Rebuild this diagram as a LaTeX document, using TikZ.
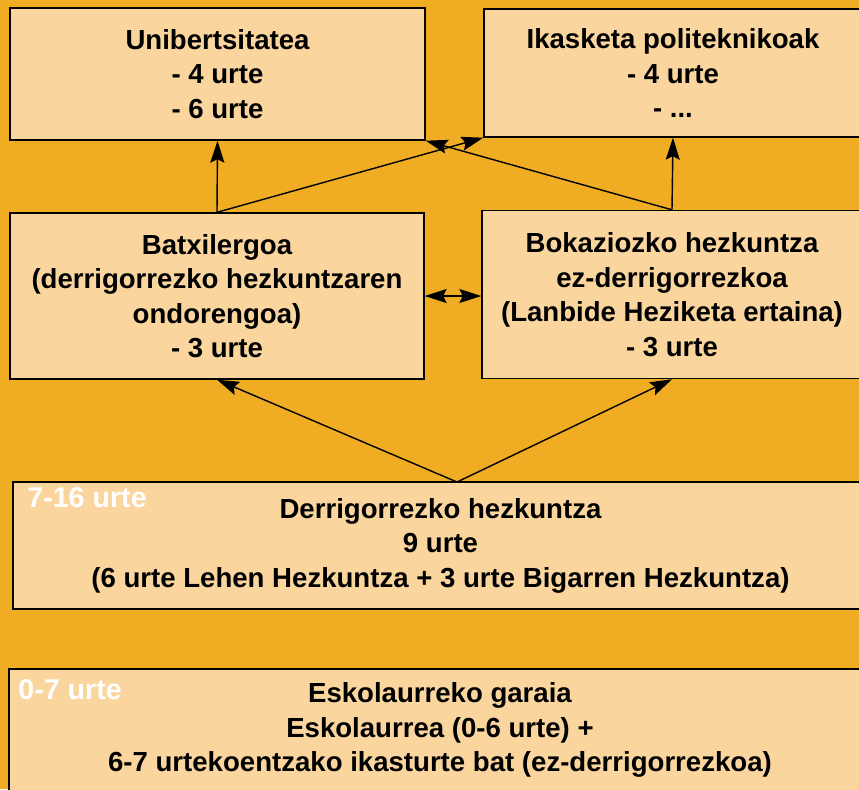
\documentclass[tikz,border=0pt]{standalone}
\usepackage{fontspec}
\setmainfont{Liberation Sans}
\usetikzlibrary{arrows.meta}
\definecolor{bgorange}{HTML}{F0AD24}
\definecolor{boxfill}{HTML}{FAD69E}

\begin{document}
\begin{tikzpicture}[x=0.02cm, y=-0.02cm, >={Stealth[length=4.4mm, width=2.8mm, inset=0.7mm]},
  box/.style={draw, thick, fill=boxfill, inner sep=0pt, align=center,
    font=\bfseries\fontsize{15.7}{19.6}\selectfont},
  age/.style={anchor=west, inner sep=0pt, text=white,
    font=\bfseries\fontsize{16.3}{19}\selectfont}]
  \useasboundingbox (0,0) rectangle (859,789);
  \fill [bgorange] (0,0) rectangle (859,789);
  \clip (0,0) rectangle (859,789);

  % upper level
  \node (uni) at (217.5,74) [box, minimum width=8.3cm, minimum height=2.64cm]
    {Unibertsitatea\\- 4 urte\\- 6 urte};
  \node (ika) at (673,73) [box, minimum width=7.56cm, minimum height=2.56cm]
    {Ikasketa politeknikoak\\- 4 urte\\- ...};

  % middle level
  \node (batx) at (217,296) [box, minimum width=8.28cm, minimum height=3.32cm]
    {Batxilergoa\\(derrigorrezko hezkuntzaren\\ondorengoa)\\- 3 urte};
  \node (bok) at (672,294.5) [box, minimum width=7.6cm, minimum height=3.36cm]
    {Bokaziozko hezkuntza\\ez-derrigorrezkoa\\(Lanbide Heziketa ertaina)\\- 3 urte};

  % compulsory and pre-school
  \node (der) at (440.5,545.5) [box, minimum width=17.1cm, minimum height=2.54cm]
    {Derrigorrezko hezkuntza\\9 urte\\(6 urte Lehen Hezkuntza + 3 urte Bigarren Hezkuntza)};
  \node (esk) at (440,730) [box, minimum width=17.24cm, minimum height=2.44cm]
    {Eskolaurreko garaia\\Eskolaurrea (0-6 urte) +\\6-7 urtekoentzako ikasturte bat (ez-derrigorrezkoa)};

  \node (der-age) at (27,498) [age] {7-16 urte};
  \node (esk-age) at (18,690) [age] {0-7 urte};

  \coordinate (fork) at (457,482);

  \draw [thick, ->] (batx.north) -- (uni.south);
  \draw [thick, ->] (batx.north) -- (ika.south west);
  \draw [thick, ->] (bok.north) -- (ika.south);
  \draw [thick, ->] (bok.north) -- (uni.south east);
  \draw [thick, <->] (batx.east) -- (bok.west |- batx.east);
  \draw [thick, ->] (fork) -- (batx.south);
  \draw [thick, ->] (fork) -- (bok.south);
\end{tikzpicture}
\end{document}
